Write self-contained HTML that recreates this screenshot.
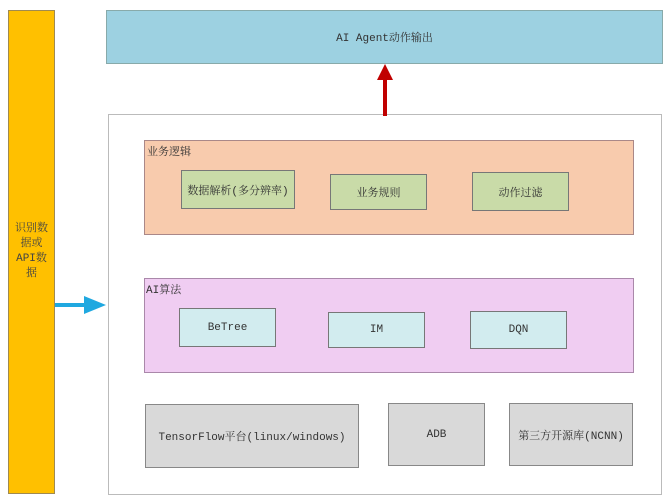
<!DOCTYPE html>
<html><head><meta charset="utf-8"><style>
body{margin:0;width:670px;height:503px;background:#fff;position:relative;overflow:hidden;font-family:"Liberation Mono","Noto Serif CJK SC",monospace;color:#333}
.b{position:absolute;box-sizing:border-box;display:flex;align-items:center;justify-content:center;font-size:11px}
.lbl{position:absolute;font-size:11px}
</style></head><body>
<div class="b" style="left:8px;top:10px;width:47px;height:484px;background:#ffc000;border:1px solid #a08a50"></div>
<div class="lbl" style="left:8px;top:222px;width:47px;text-align:center;line-height:15px;color:#444">识别数<br>据或<br>API数<br>据</div>
<div class="b" style="left:106px;top:10px;width:557px;height:54px;background:#9dd1e1;border:1px solid #8aa">AI Agent动作输出</div>
<div class="b" style="left:108px;top:114px;width:554px;height:381px;background:#fff;border:1px solid #bbb"></div>
<div class="b" style="left:144px;top:140px;width:490px;height:95px;background:#f8cbad;border:1px solid #a88"></div>
<div class="lbl" style="left:147px;top:143px">业务逻辑</div>
<div class="b" style="left:181px;top:170px;width:114px;height:39px;background:#c9dba8;border:1px solid #777">数据解析(多分辨率)</div>
<div class="b" style="left:330px;top:174px;width:97px;height:36px;background:#c9dba8;border:1px solid #777">业务规则</div>
<div class="b" style="left:472px;top:172px;width:97px;height:39px;background:#c9dba8;border:1px solid #777">动作过滤</div>
<div class="b" style="left:144px;top:278px;width:490px;height:95px;background:#f0cdf2;border:1px solid #a8a"></div>
<div class="lbl" style="left:146px;top:281px">AI算法</div>
<div class="b" style="left:179px;top:308px;width:97px;height:39px;background:#d2ecef;border:1px solid #777">BeTree</div>
<div class="b" style="left:328px;top:312px;width:97px;height:36px;background:#d2ecef;border:1px solid #777">IM</div>
<div class="b" style="left:470px;top:311px;width:97px;height:38px;background:#d2ecef;border:1px solid #777">DQN</div>
<div class="b" style="left:145px;top:404px;width:214px;height:64px;background:#d9d9d9;border:1px solid #888">TensorFlow平台(linux/windows)</div>
<div class="b" style="left:388px;top:403px;width:97px;height:63px;background:#d9d9d9;border:1px solid #888">ADB</div>
<div class="b" style="left:509px;top:403px;width:124px;height:63px;background:#d9d9d9;border:1px solid #888">第三方开源库(NCNN)</div>
<svg style="position:absolute;left:0;top:0" width="670" height="503">
<rect x="383" y="78" width="4" height="38" fill="#c00000"/>
<polygon points="385,64 377,80 393,80" fill="#c00000"/>
<rect x="55" y="303" width="32" height="4" fill="#1fa8e0"/>
<polygon points="106,305 84,296 84,314" fill="#1fa8e0"/>
</svg>
</body></html>
